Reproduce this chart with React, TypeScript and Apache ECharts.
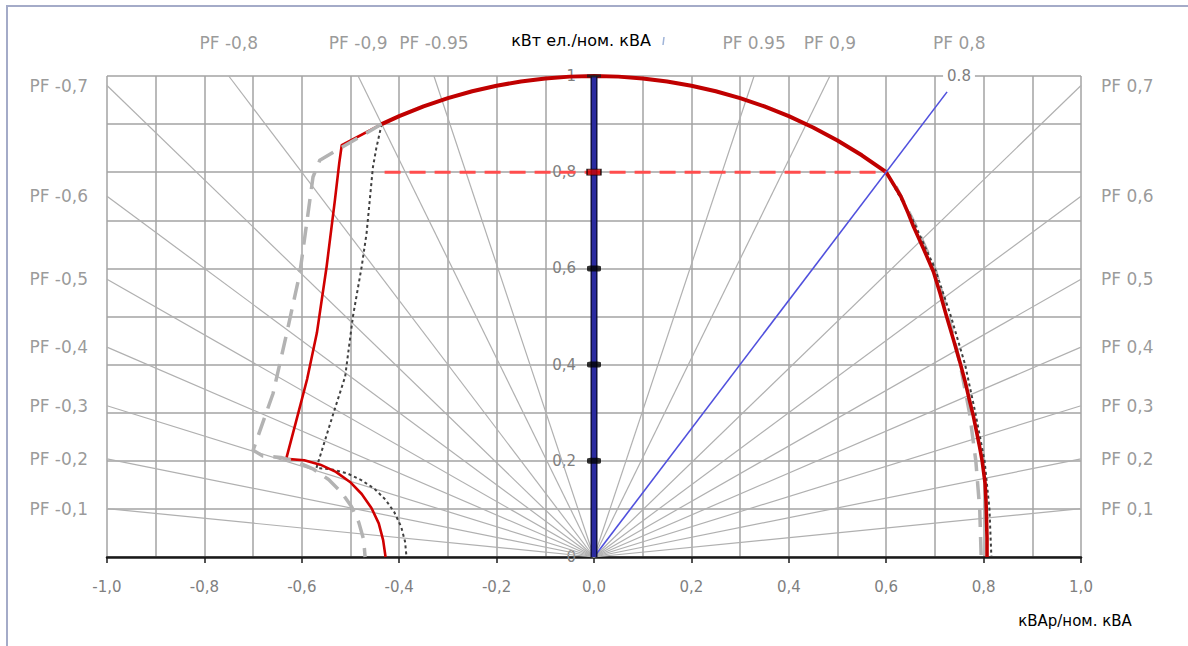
import React, { useEffect, useRef } from "react";
import * as echarts from "echarts";

// ---- data ----
const pfValues = [0.1, 0.2, 0.3, 0.4, 0.5, 0.6, 0.7, 0.8, 0.9, 0.95];
const leftLabels = ["PF -0,1", "PF -0,2", "PF -0,3", "PF -0,4", "PF -0,5", "PF -0,6", "PF -0,7", "PF -0,8", "PF -0,9", "PF -0.95"];
const rightLabels = ["PF 0,1", "PF 0,2", "PF 0,3", "PF 0,4", "PF 0,5", "PF 0,6", "PF 0,7", "PF 0,8", "PF 0,9", "PF 0.95"];
const rightGreyLine = [true, true, true, true, true, true, true, false, true, true];

const redCircle: number[][] = [
  [-0.436, 0.9], [-0.4, 0.9165], [-0.35, 0.9367], [-0.3, 0.9539], [-0.25, 0.9682],
  [-0.2, 0.9798], [-0.15, 0.9887], [-0.1, 0.995], [-0.05, 0.9987], [0, 1],
  [0.05, 0.9987], [0.1, 0.995], [0.15, 0.9887], [0.2, 0.9798], [0.25, 0.9682],
  [0.3, 0.9539], [0.35, 0.9367], [0.4, 0.9165], [0.45, 0.893], [0.5, 0.866],
  [0.55, 0.8352], [0.6, 0.8],
];
const redRight: number[][] = [
  [0.6, 0.8], [0.615, 0.775], [0.63, 0.75], [0.645, 0.715], [0.656, 0.687], [0.677, 0.64],
  [0.697, 0.593], [0.711, 0.547], [0.724, 0.5], [0.738, 0.452], [0.752, 0.403],
  [0.762, 0.365], [0.77, 0.33], [0.779, 0.293], [0.786, 0.258], [0.792, 0.228],
  [0.797, 0.2], [0.803, 0.154], [0.805, 0.115], [0.806, 0.08], [0.807, 0.04], [0.807, 0],
];
const redLeft: number[][] = [
  [-0.436, 0.9], [-0.518, 0.856], [-0.523, 0.82], [-0.532, 0.742], [-0.549, 0.604],
  [-0.569, 0.466], [-0.589, 0.37], [-0.607, 0.3], [-0.632, 0.204],
  [-0.595, 0.201], [-0.562, 0.192], [-0.53, 0.177], [-0.501, 0.156], [-0.477, 0.131],
  [-0.457, 0.102], [-0.442, 0.07], [-0.433, 0.035], [-0.428, 0],
];
const greyLeft: number[][] = [
  [-0.436, 0.9], [-0.563, 0.825], [-0.577, 0.79], [-0.604, 0.59], [-0.631, 0.465],
  [-0.659, 0.34], [-0.7, 0.222], [-0.68, 0.21], [-0.643, 0.207], [-0.608, 0.197],
  [-0.575, 0.182], [-0.545, 0.161], [-0.519, 0.135], [-0.498, 0.105], [-0.483, 0.072],
  [-0.473, 0.036], [-0.47, 0],
];
const greyRight: number[][] = [
  [0.62, 0.77], [0.66, 0.69], [0.7, 0.6], [0.728, 0.5], [0.752, 0.4], [0.771, 0.3],
  [0.784, 0.2], [0.792, 0.1], [0.795, 0],
];
const dottedLeft: number[][] = [
  [-0.436, 0.9], [-0.447, 0.85], [-0.454, 0.81], [-0.467, 0.673], [-0.477, 0.604],
  [-0.495, 0.5], [-0.511, 0.375], [-0.535, 0.299], [-0.57, 0.185],
  [-0.538, 0.182], [-0.507, 0.174], [-0.478, 0.16], [-0.451, 0.142], [-0.428, 0.119],
  [-0.41, 0.093], [-0.396, 0.063], [-0.388, 0.032], [-0.385, 0],
];
const dottedRight: number[][] = [
  [0.6, 0.8], [0.655, 0.7], [0.7, 0.6], [0.733, 0.5], [0.762, 0.4], [0.783, 0.3],
  [0.802, 0.2], [0.812, 0.1], [0.816, 0],
];
const redDashed: number[][] = [[-0.43, 0.8], [0.6, 0.8]];
const blueLine: number[][] = [[0, 0], [0.725, 0.967]];
const blueAxis: number[][] = [[0, 0], [0, 1]];
const blackMarks: number[][] = [[0, 0.2], [0, 0.4], [0, 0.6]];
const redMark: number[][] = [[0, 0.8]];
const topMark: number[][] = [[0, 1]];

const FONT = "DejaVu Sans";
const GREY_TXT = "#7f7f7f";
const GRID_W = 974;

function pfEnd(pf: number, side: number): number[] {
  const t = pf / Math.sqrt(1 - pf * pf);
  return t <= 1 ? [side, t] : [side / t, 1];
}

function fmtY(v: number): string {
  if (Math.abs(v) < 1e-9) return "0";
  if (Math.abs(v - 1) < 1e-9) return "1";
  return v.toFixed(1).replace(".", ",");
}

export default function App() {
  const ref = useRef<HTMLDivElement>(null);
  useEffect(() => {
    if (!ref.current) return;
    const chart = echarts.init(ref.current, undefined, { renderer: "svg" });

    const radial: any[] = [];
    const labelPts: any[] = [];
    pfValues.forEach((pf, i) => {
      const l = pfEnd(pf, -1);
      radial.push({ coords: [[0, 0], l] });
      const lTop = l[1] >= 1 - 1e-9;
      labelPts.push({
        value: l,
        name: leftLabels[i],
        label: { position: lTop ? "top" : "left", distance: lTop ? 24 : 19 },
      });
      const r = pfEnd(pf, 1);
      if (rightGreyLine[i]) radial.push({ coords: [[0, 0], r] });
      const rTop = r[1] >= 1 - 1e-9;
      labelPts.push({
        value: r,
        name: rightLabels[i],
        label: { position: rTop ? "top" : "right", distance: rTop ? 24 : 20 },
      });
    });

    const lineS = (data: number[][], color: string, width: number, type: any, z: number) => ({
      type: "line",
      data,
      showSymbol: false,
      symbol: "none",
      silent: true,
      z,
      lineStyle: { color, width, type, cap: "butt", join: "round" },
    });

    chart.setOption({
      animation: false,
      backgroundColor: "#ffffff",
      grid: { left: 107, right: 107, top: 76, bottom: 89 },
      xAxis: {
        type: "value",
        min: -1,
        max: 1,
        interval: 0.2,
        axisLine: { show: true, onZero: false, lineStyle: { color: "#1a1a1a", width: 2.5 } },
        axisTick: { show: true, length: 6, lineStyle: { color: "#1a1a1a", width: 1.5 } },
        minorTick: { show: false, splitNumber: 2 },
        splitLine: { show: true, lineStyle: { color: "#a3a3a3", width: 1.5 } },
        minorSplitLine: { show: true, lineStyle: { color: "#a3a3a3", width: 1.5 } },
        axisLabel: {
          margin: 22,
          color: GREY_TXT,
          fontFamily: FONT,
          fontSize: 15,
          formatter: (v: number) => v.toFixed(1).replace(".", ","),
        },
      },
      yAxis: {
        type: "value",
        min: 0,
        max: 1,
        interval: 0.2,
        position: "left",
        offset: -GRID_W / 2,
        axisLine: { show: true, onZero: false, lineStyle: { color: "#1a1a1a", width: 1 } },
        axisTick: { show: false },
        minorTick: { show: false, splitNumber: 2 },
        splitLine: { show: true, lineStyle: { color: "#a3a3a3", width: 1.5 } },
        minorSplitLine: { show: true, lineStyle: { color: "#a3a3a3", width: 1.5 } },
        axisLabel: {
          margin: 18,
          color: GREY_TXT,
          fontFamily: FONT,
          fontSize: 15,
          formatter: (v: number) => fmtY(v),
        },
      },
      series: [
        {
          type: "lines",
          coordinateSystem: "cartesian2d",
          silent: true,
          z: 1,
          lineStyle: { color: "#b0b0b0", width: 1.2, opacity: 1 },
          data: radial,
        },
        lineS(greyRight, "#b3b3b3", 3.5, [18, 10], 2),
        lineS(dottedRight, "#404040", 2, [3, 3], 2),
        lineS(dottedLeft, "#404040", 2, [3, 3], 2),
        lineS(redCircle, "#c00000", 4, "solid", 3),
        lineS(redRight, "#c00000", 3.6, "solid", 3),
        lineS(redLeft, "#d00000", 2.6, "solid", 3),
        lineS(greyLeft, "#b3b3b3", 3.5, [18, 10], 4),
        lineS(redDashed, "#ff4d4d", 3, [16, 9], 4),
        {
          ...lineS(blueLine, "#5050dd", 1.6, "solid", 4),
          endLabel: {
            show: true,
            formatter: () => "0.8",
            color: GREY_TXT,
            fontFamily: FONT,
            fontSize: 15,
            backgroundColor: "#ffffff",
            padding: [1, 4],
            offset: [-12, -16],
          },
        },
        lineS(blueAxis, "#101040", 7, "solid", 5),
        lineS(blueAxis, "#2a2aa0", 4, "solid", 6),
        {
          type: "scatter",
          data: blackMarks,
          symbol: "roundRect",
          symbolSize: [14, 6],
          itemStyle: { color: "#000000" },
          silent: true,
          z: 7,
        },
        {
          type: "scatter",
          data: redMark,
          symbol: "rect",
          symbolSize: [14, 6],
          itemStyle: { color: "#d00000", borderColor: "#000000", borderWidth: 1 },
          silent: true,
          z: 7,
        },
        {
          type: "scatter",
          data: topMark,
          symbol: "rect",
          symbolSize: [14, 3],
          itemStyle: { color: "#1a1a1a" },
          silent: true,
          z: 7,
        },
        {
          type: "scatter",
          data: labelPts,
          symbolSize: 0.01,
          itemStyle: { color: "rgba(0,0,0,0)" },
          silent: true,
          z: 8,
          label: {
            show: true,
            formatter: (p: any) => p.name,
            color: GREY_TXT,
            fontFamily: FONT,
            fontSize: 17,
          },
        },
      ],
      graphic: [
        {
          type: "rect",
          shape: { x: 7, y: 6, width: 1240, height: 700 },
          style: { fill: "none", stroke: "#a4abc8", lineWidth: 2 },
          silent: true,
        },
        {
          type: "text",
          x: 581,
          y: 40,
          style: {
            text: "кВт ел./ном. кВА",
            fill: "#000000",
            font: `16px "${FONT}"`,
            align: "center",
            verticalAlign: "middle",
          },
        },
        {
          type: "line",
          shape: { x1: 664, y1: 37, x2: 663, y2: 45 },
          style: { stroke: "#9fb4d8", lineWidth: 1.5 },
        },
        {
          type: "text",
          x: 1075,
          y: 621,
          style: {
            text: "кВАр/ном. кВА",
            fill: "#000000",
            font: `15px "${FONT}"`,
            align: "center",
            verticalAlign: "middle",
          },
        },
      ],
    });
    return () => chart.dispose();
  }, []);
  return (
    <div
      ref={ref}
      style={{ position: "fixed", left: 0, top: 0, width: 1188, height: 646, background: "#fff" }}
    />
  );
}
